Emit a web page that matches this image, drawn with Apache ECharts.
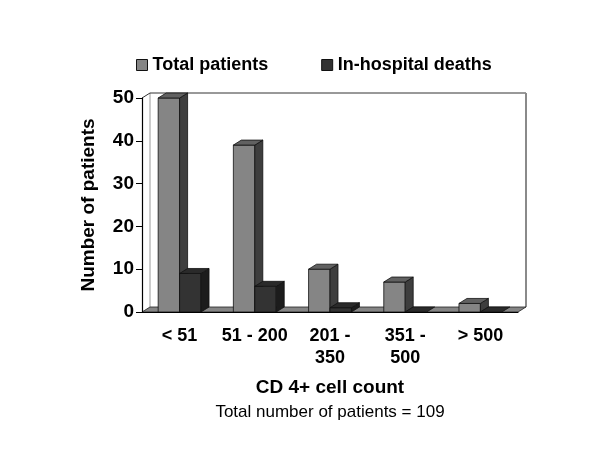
<!DOCTYPE html>
<html>
<head>
<meta charset="utf-8">
<script src="https://cdn.jsdelivr.net/npm/echarts@6/dist/echarts.min.js"></script>
<style>
html,body{margin:0;padding:0;background:#fff;}
#chart{width:600px;height:450px;}
</style>
</head>
<body>
<div id="chart"></div>
<script>
// ---- data ----
var categories = ['< 51', '51 - 200', '201 -\n350', '351 -\n500', '> 500'];
var totalPatients = [50, 39, 10, 7, 2];
var hospitalDeaths = [9, 6, 1, 0, 0];
var seriesNames = ['Total patients', 'In-hospital deaths'];
var yTicks = { min: 0, max: 50, interval: 10 };
var xTitle = 'CD 4+ cell count';
var subTitle = 'Total number of patients = 109';
var yTitle = 'Number of patients';

// ---- style ----
var FONT = '"Liberation Sans", Arial, sans-serif';
var DX = 8, DY = -5;
var styles = [
  { front: '#858585', top: '#616161', side: '#3e3e3e' },
  { front: '#333333', top: '#2a2a2a', side: '#1c1c1c' }
];

function barRenderer(seriesIdx) {
  return function (params, api) {
    var i = api.value(0), v = api.value(1);
    var base = api.coord([i, 0]);
    var top = api.coord([i, v]);
    var bw = api.size([1, 0])[0];
    var w = bw * 0.285;
    var x0 = seriesIdx === 0 ? base[0] - w : base[0];
    var by = base[1], ty = top[1];
    var st = styles[seriesIdx];
    var stroke = { stroke: '#111', lineWidth: 0.8 };
    var children = [];
    if (by - ty > 0.5) {
      children.push({ type: 'rect', shape: { x: x0, y: ty, width: w, height: by - ty },
        style: Object.assign({ fill: st.front }, stroke) });
      children.push({ type: 'polygon', shape: { points: [[x0 + w, ty], [x0 + w + DX, ty + DY], [x0 + w + DX, by + DY], [x0 + w, by]] },
        style: Object.assign({ fill: st.side }, stroke) });
    }
    children.push({ type: 'polygon', shape: { points: [[x0, ty], [x0 + w, ty], [x0 + w + DX, ty + DY], [x0 + DX, ty + DY]] },
      style: Object.assign({ fill: st.top }, stroke) });
    return { type: 'group', children: children };
  };
}

function frameRenderer(params, api) {
  var cs = params.coordSys;
  var x = cs.x, y = cs.y, w = cs.width, h = cs.height;
  return {
    type: 'group',
    children: [
      // back wall
      { type: 'rect', shape: { x: x + DX, y: y + DY, width: w, height: h },
        style: { fill: '#ffffff', stroke: null } },
      // left wall
      { type: 'polygon', shape: { points: [[x, y + h], [x, y], [x + DX, y + DY], [x + DX, y + h + DY]] },
        style: { fill: '#ffffff', stroke: null } },
      { type: 'line', shape: { x1: x + DX, y1: y + DY, x2: x + DX, y2: y + h + DY },
        style: { stroke: '#9a9a9a', lineWidth: 1 } },
      { type: 'line', shape: { x1: x, y1: y, x2: x + DX, y2: y + DY },
        style: { stroke: '#333', lineWidth: 1 } },
      { type: 'line', shape: { x1: x + DX, y1: y + DY, x2: x + w + DX, y2: y + DY },
        style: { stroke: '#333', lineWidth: 1 } },
      { type: 'line', shape: { x1: x + w + DX, y1: y + DY, x2: x + w + DX, y2: y + h + DY },
        style: { stroke: '#8a8a8a', lineWidth: 2 } },
      // floor
      { type: 'polygon', shape: { points: [[x, y + h], [x + w, y + h], [x + w + DX, y + h + DY], [x + DX, y + h + DY]] },
        style: { fill: '#858585', stroke: '#222', lineWidth: 0.8 } }
    ]
  };
}

var chart = echarts.init(document.getElementById('chart'), null, { renderer: 'canvas' });
chart.setOption({
  animation: false,
  backgroundColor: '#ffffff',
  textStyle: { fontFamily: FONT, color: '#000' },
  legend: {
    left: 131,
    top: 51,
    itemWidth: 11,
    itemHeight: 11,
    itemGap: 53,
    itemTextGap: 6,
    icon: 'rect',
    textStyle: { fontFamily: FONT, fontSize: 18, fontWeight: 'bold', color: '#000' },
    data: [
      { name: seriesNames[0], itemStyle: { color: '#858585', borderColor: '#111', borderWidth: 1 } },
      { name: seriesNames[1], itemStyle: { color: '#333333', borderColor: '#111', borderWidth: 1 } }
    ]
  },
  grid: { left: 142, right: 82, top: 98, bottom: 138, containLabel: false, outerBoundsMode: 'none' },
  xAxis: {
    type: 'category',
    data: categories,
    boundaryGap: true,
    axisLine: { lineStyle: { color: '#000', width: 1 } },
    axisTick: { length: 5, lineStyle: { color: '#000' } },
    axisLabel: { fontFamily: FONT, fontSize: 18, fontWeight: 'bold', color: '#000', margin: 13, lineHeight: 22, interval: 0 },
    name: '{a|' + xTitle + '}\n{b|' + subTitle + '}',
    nameLocation: 'middle',
    nameGap: 64,
    nameTextStyle: {
      rich: {
        a: { fontFamily: FONT, fontSize: 19, fontWeight: 'bold', color: '#000', lineHeight: 24 },
        b: { fontFamily: FONT, fontSize: 17, fontWeight: 'normal', color: '#000', lineHeight: 24 }
      }
    },
    z: 5
  },
  yAxis: {
    type: 'value',
    min: yTicks.min,
    max: yTicks.max,
    interval: yTicks.interval,
    splitLine: { show: false },
    axisLine: { show: true, lineStyle: { color: '#000', width: 1.2 } },
    axisTick: { show: true, length: 6, lineStyle: { color: '#000', width: 1 } },
    axisLabel: { fontFamily: FONT, fontSize: 19, fontWeight: 'bold', color: '#000', margin: 8 },
    name: yTitle,
    nameLocation: 'middle',
    nameGap: 44,
    nameRotate: 90,
    nameTextStyle: { fontFamily: FONT, fontSize: 19, fontWeight: 'bold', color: '#000' },
    z: 5
  },
  series: [
    {
      type: 'custom', name: 'frame', silent: true, z: 1,
      renderItem: frameRenderer,
      data: [[0, 0]],
      encode: { x: 0, y: 1 }
    },
    {
      type: 'custom', name: seriesNames[0], z: 2,
      itemStyle: { color: '#858585' },
      renderItem: barRenderer(0),
      data: totalPatients.map(function (v, i) { return [i, v]; }),
      encode: { x: 0, y: 1 }
    },
    {
      type: 'custom', name: seriesNames[1], z: 3,
      itemStyle: { color: '#333333' },
      renderItem: barRenderer(1),
      data: hospitalDeaths.map(function (v, i) { return [i, v]; }),
      encode: { x: 0, y: 1 }
    }
  ]
});
</script>
</body>
</html>
